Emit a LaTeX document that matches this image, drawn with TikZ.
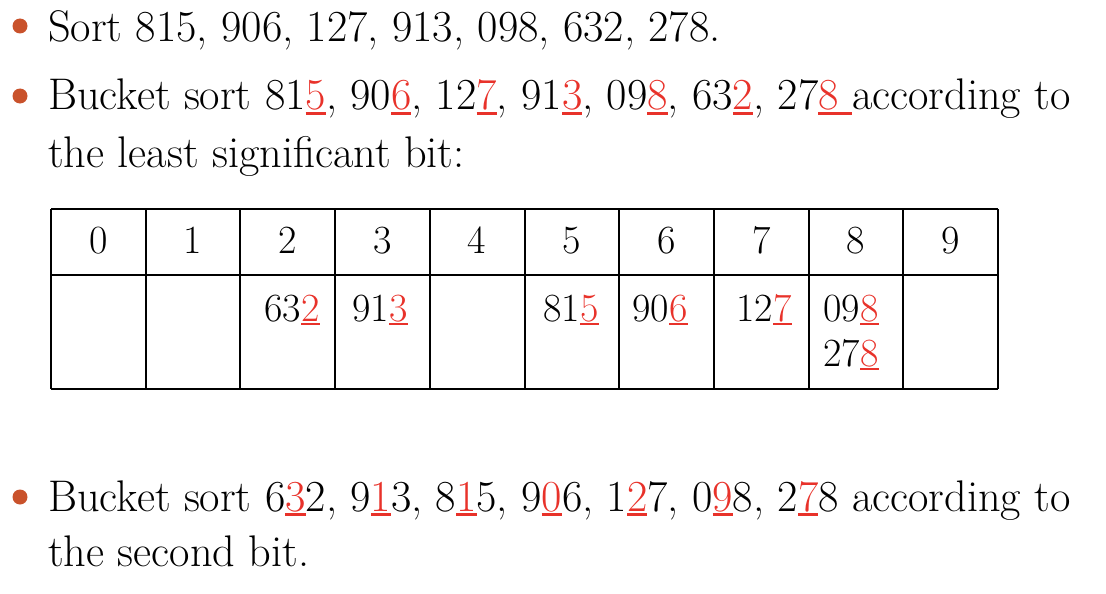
\documentclass[tikz,border=0pt]{standalone}
\usepackage{fontspec}
\usepackage{xcolor}
\definecolor{myred}{HTML}{E8322A}
\definecolor{bulletc}{HTML}{C9522B}
\newcommand\rd[1]{\textcolor{myred}{\setbox0\hbox{#1}\rlap{\rule[-0.11em]{\wd0}{0.055em}}\box0}}
\tikzset{
  bodytext/.style={anchor=base west, inner sep=0pt, font=\fontsize{44.3}{50}\selectfont},
  celltext/.style={anchor=base, inner sep=0pt, font=\fontsize{40}{44}\selectfont},
  bulletdot/.style={circle, fill=bulletc, inner sep=0pt, minimum size=15pt},
  gridline/.style={line width=1.8pt, black}
}
\begin{document}
\begin{tikzpicture}[x=1pt,y=-1pt]
\useasboundingbox (0,0) rectangle (1106,594);
% bullets
\node[bulletdot] (b1) at (20,26) {};
\node[bulletdot] (b2) at (20,96) {};
\node[bulletdot] (b3) at (20,497) {};
% text lines
\node[bodytext] (t1) at (48,42) {Sort 815, 906, 127, 913, 098, 632, 278.};
\node[bodytext] (t2) at (48,110) {Bucket sort 81\rd{5}, 90\rd{6}, 12\rd{7}, 91\rd{3}, 09\rd{8}, 63\rd{2}, 27\rd{8\ }according to};
\node[bodytext] (t3) at (48,167) {the least significant bit:};
\node[bodytext] (t4) at (48,511) {Bucket sort 6\rd{3}2, 9\rd{1}3, 8\rd{1}5, 9\rd{0}6, 1\rd{2}7, 0\rd{9}8, 2\rd{7}8 according to};
\node[bodytext] (t5) at (48,566) {the second bit.};
% table grid
\foreach \xx in {51,146,240,335,430,525,619,714,809,903,998} {
  \draw[gridline] (\xx,209) -- (\xx,389);
}
\draw[gridline] (51,209) -- (998,209);
\draw[gridline] (51,275) -- (998,275);
\draw[gridline] (51,389) -- (998,389);
% header digits
\foreach \i in {0,...,9} {
  \node[celltext] (h\i) at ({51+\i*94.7+47.35},253) {\i};
}
% bucket contents
\node[celltext] (c2) at (292,321) {63\rd{2}};
\node[celltext] (c3) at (380,321) {91\rd{3}};
\node[celltext] (c5) at (571,321) {81\rd{5}};
\node[celltext] (c6) at (660,321) {90\rd{6}};
\node[celltext] (c7) at (764,321) {12\rd{7}};
\node[celltext] (c8a) at (851,321) {09\rd{8}};
\node[celltext] (c8b) at (851,366) {27\rd{8}};
\end{tikzpicture}
\end{document}
